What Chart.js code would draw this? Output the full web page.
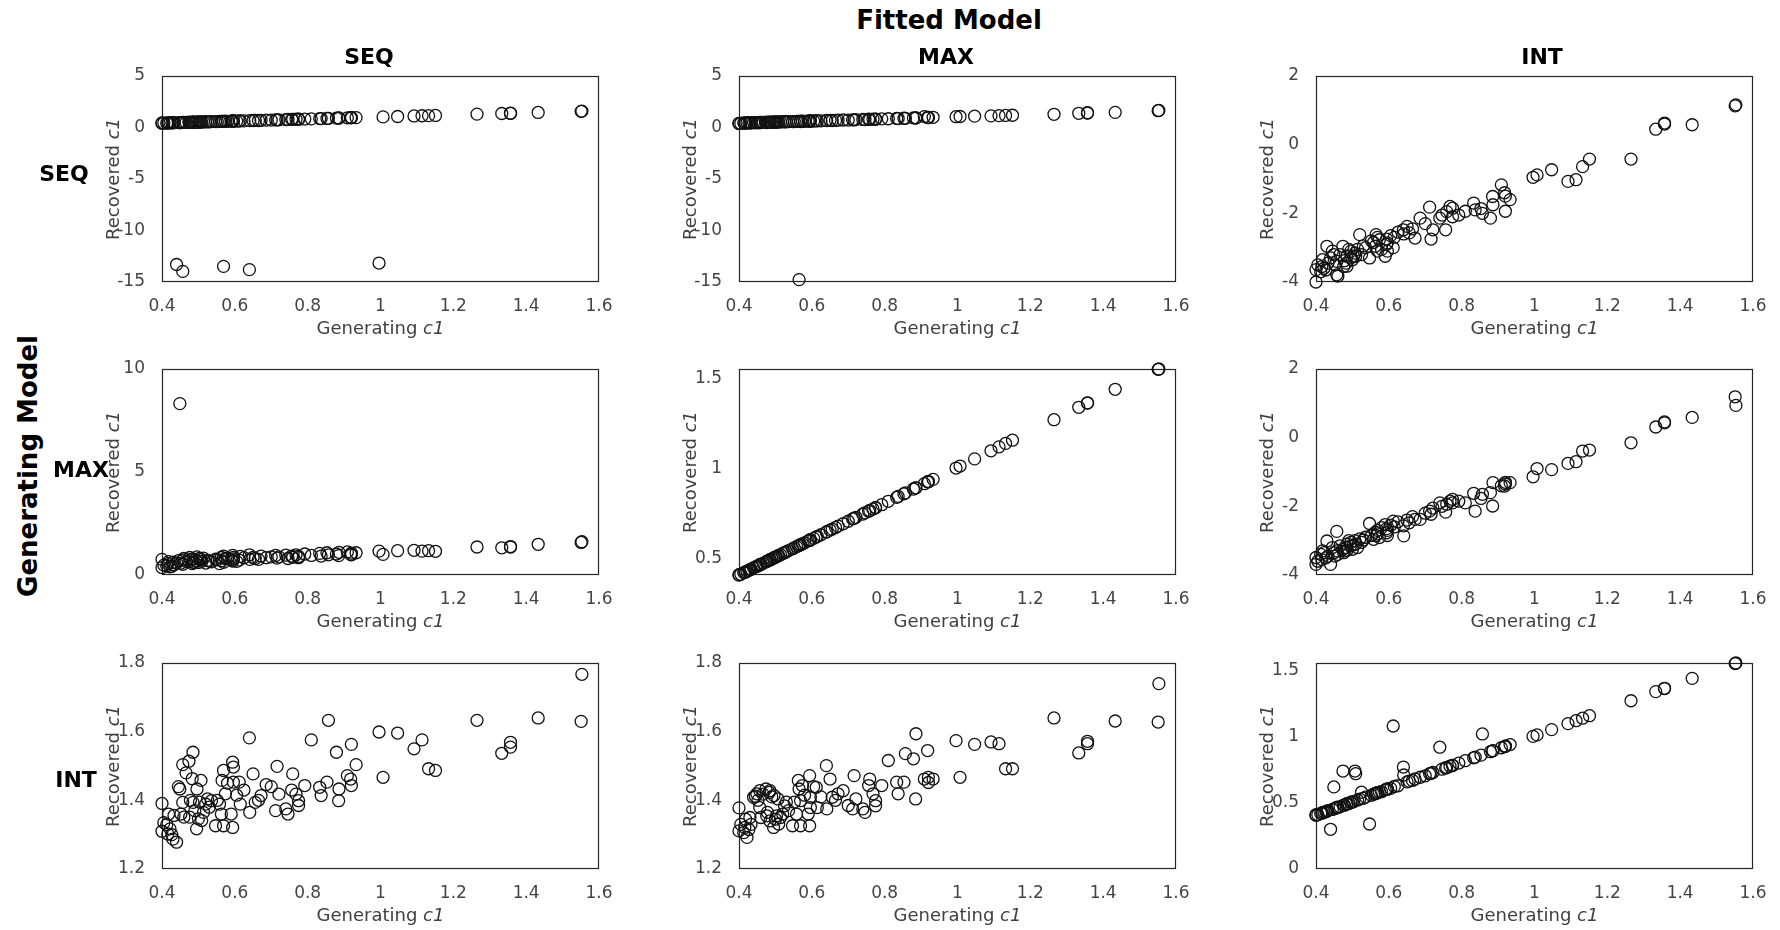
<!DOCTYPE html>
<html><head><meta charset="utf-8">
<script src="https://cdn.jsdelivr.net/npm/chart.js@4/dist/chart.umd.min.js"></script>
<style>
html,body{margin:0;padding:0;background:#fff;}
body{width:1780px;height:930px;position:relative;overflow:hidden;font-family:"DejaVu Sans",sans-serif;}
canvas{position:absolute;z-index:1;}
.lbl{position:absolute;white-space:nowrap;z-index:2;line-height:1;}
.big{font-weight:bold;color:#000;}
.ax{color:#404040;font-size:18px;}
</style></head><body>
<script>
// Generating c1 (shared x values)
const genC1 = [
0.400,0.400,0.413,0.416,0.422,0.430,0.433,0.440,0.449,0.457,
0.457,0.460,0.474,0.476,0.483,0.485,0.485,0.495,0.496,0.500,
0.507,0.509,0.514,0.520,0.525,0.536,0.547,0.558,0.563,0.565,
0.569,0.569,0.574,0.590,0.594,0.594,0.596,0.596,0.612,0.615,
0.640,0.641,0.650,0.656,0.672,0.686,0.712,0.716,0.721,0.740,
0.746,0.756,0.759,0.768,0.775,0.775,0.792,0.810,0.833,0.837,
0.853,0.857,0.879,0.885,0.886,0.909,0.918,0.920,0.920,0.933,
0.996,1.007,1.047,1.092,1.114,1.132,1.151,1.265,1.333,1.357,
1.357,1.433,1.551,1.553,
0.405,0.418,0.427,0.445,0.452,0.466,0.478,0.490,0.503,0.530,
0.552,0.580,0.605,0.625,0.665,0.700];

// Recovered c1: generating SEQ
const genSEQ_fitSEQ = [
0.42,0.44,0.43,0.45,0.45,0.46,0.47,-13.30,0.48,-13.97,
0.49,0.49,0.51,0.50,0.52,0.51,0.52,0.53,0.52,0.54,
0.54,0.53,0.55,0.56,0.55,0.57,0.58,0.59,0.60,0.59,
-13.48,0.60,0.61,0.62,0.63,0.62,0.63,0.64,0.65,0.64,
-13.80,0.67,0.68,0.69,0.70,0.72,0.74,0.75,0.75,0.77,
0.78,0.79,0.79,0.80,0.81,0.80,0.82,0.84,0.86,0.87,
0.88,0.89,0.91,0.92,0.91,0.94,0.95,0.95,0.96,0.96,
-13.16,1.03,1.07,1.12,1.14,1.15,1.17,1.30,1.36,1.38,
1.39,1.46,1.57,1.59,
0.43,0.44,0.45,0.47,0.47,0.49,0.50,0.51,0.52,0.55,
0.57,0.60,0.62,0.64,0.68,0.72];
const genSEQ_fitMAX = [
0.38,0.41,0.45,0.42,0.47,0.44,0.46,0.48,0.47,0.50,
0.46,0.49,0.51,0.48,0.52,0.50,0.53,0.51,0.54,0.52,
0.55,0.53,0.54,0.57,0.55,0.58,0.57,0.60,0.59,-14.77,
0.61,0.58,0.62,0.63,0.61,0.64,0.62,0.65,0.66,0.64,
0.69,0.67,0.70,0.68,0.71,0.73,0.75,0.74,0.76,0.78,
0.77,0.80,0.78,0.81,0.82,0.80,0.84,0.85,0.88,0.87,
0.90,0.89,0.93,0.92,0.94,1.06,0.97,0.98,0.96,0.99,
1.05,1.07,1.10,1.13,1.15,1.17,1.19,1.28,1.38,1.41,
1.43,1.47,1.63,1.66,
0.40,0.43,0.44,0.46,0.48,0.49,0.50,0.52,0.53,0.56,
0.58,0.60,0.63,0.65,0.69,0.72];
const genSEQ_fitINT = [
-3.64,-4.00,-3.70,-3.55,-3.60,-2.96,-3.45,-3.30,-3.20,-3.79,
-3.40,-3.83,-2.96,-3.55,-3.45,-3.25,-3.54,-3.30,-3.10,-3.35,
-3.16,-3.25,-3.05,-2.62,-3.20,-3.00,-3.30,-2.85,-2.96,-2.62,
-2.70,-3.10,-2.77,-3.25,-2.75,-2.90,-3.10,-2.86,-3.00,-2.70,
-2.48,-2.60,-2.38,-2.57,-2.72,-2.14,-1.82,-2.75,-2.48,-2.14,
-2.05,-2.48,-1.95,-1.80,-1.85,-2.10,-2.05,-1.94,-1.70,-1.90,
-1.86,-2.00,-2.14,-1.51,-1.75,-1.17,-1.40,-1.50,-1.94,-1.60,
-0.95,-0.88,-0.73,-1.07,-1.02,-0.64,-0.42,-0.42,0.45,0.60,
0.63,0.58,1.13,1.16,
-3.50,-3.35,-3.65,-3.10,-3.50,-3.20,-3.38,-3.05,-3.25,-2.95,
-2.80,-3.05,-2.65,-2.55,-2.45,-2.30];

// Recovered c1: generating MAX
const genMAX_fitSEQ = [
0.76,0.36,0.45,0.55,0.40,0.62,0.50,0.58,8.32,0.72,
0.52,0.80,0.65,0.85,0.55,0.78,0.62,0.70,0.88,0.60,
0.75,0.66,0.82,0.58,0.71,0.64,0.77,0.55,0.85,0.70,
0.92,0.62,0.80,0.74,0.95,0.68,0.86,0.78,0.72,0.90,
0.98,0.76,0.85,0.80,0.92,0.84,0.95,0.82,0.88,0.96,
0.80,0.92,0.86,0.98,0.84,0.90,1.02,0.95,1.05,0.92,
1.08,0.98,1.02,0.94,1.10,1.12,1.00,1.06,0.98,1.08,
1.16,1.00,1.18,1.20,1.16,1.18,1.15,1.36,1.32,1.36,
1.38,1.49,1.58,1.62,
0.48,0.65,0.42,0.70,0.58,0.66,0.74,0.60,0.80,0.68,
0.74,0.82,0.66,0.84,0.76,0.88];
const genMAX_fitMAX = [
0.410,0.412,0.423,0.425,0.431,0.440,0.442,0.450,0.458,0.466,
0.467,0.470,0.483,0.486,0.492,0.494,0.495,0.504,0.506,0.509,
0.517,0.518,0.523,0.530,0.534,0.546,0.556,0.568,0.572,0.575,
0.578,0.579,0.583,0.600,0.603,0.604,0.605,0.606,0.621,0.625,
0.649,0.651,0.660,0.665,0.682,0.695,0.722,0.725,0.731,0.749,
0.756,0.765,0.769,0.777,0.785,0.784,0.801,0.820,0.842,0.847,
0.862,0.867,0.888,0.895,0.895,0.918,0.928,0.929,0.930,0.942,
1.005,1.016,1.056,1.101,1.123,1.142,1.160,1.274,1.343,1.366,
1.368,1.443,1.554,1.556,
0.414,0.427,0.436,0.455,0.461,0.475,0.487,0.499,0.512,0.539,
0.561,0.589,0.614,0.634,0.674,0.709];
const genMAX_fitINT = [
-3.49,-3.69,-3.40,-3.55,-3.35,-3.01,-3.45,-3.69,-3.35,-2.73,
-3.30,-3.40,-3.25,-3.35,-3.20,-3.10,-3.28,-3.15,-3.05,-3.25,
-3.00,-3.10,-3.20,-2.95,-3.05,-2.90,-2.50,-2.96,-2.75,-2.85,
-2.70,-2.80,-2.91,-2.53,-2.77,-2.65,-2.85,-2.70,-2.43,-2.60,
-2.57,-2.86,-2.40,-2.48,-2.38,-2.38,-2.14,-2.23,-2.05,-1.90,
-2.00,-2.17,-1.94,-1.85,-1.80,-1.90,-1.85,-1.90,-1.62,-2.14,
-1.77,-1.65,-1.60,-1.99,-1.31,-1.40,-1.41,-1.35,-1.30,-1.31,
-1.14,-0.90,-0.93,-0.75,-0.70,-0.39,-0.36,-0.15,0.31,0.43,
0.46,0.59,1.19,0.94,
-3.60,-3.30,-3.50,-3.20,-3.45,-3.15,-3.30,-3.00,-3.12,-2.98,
-2.85,-2.62,-2.55,-2.45,-2.30,-2.20];

// Recovered c1: generating INT
const genINT_fitSEQ = [
1.391,1.310,1.329,1.302,1.317,1.287,1.356,1.278,1.433,1.504,
1.394,1.351,1.514,1.351,1.463,1.540,1.394,1.317,1.433,1.346,
1.458,1.341,1.365,1.389,1.404,1.399,1.326,1.389,1.360,1.458,
1.487,1.326,1.419,1.360,1.511,1.321,1.497,1.453,1.453,1.389,
1.582,1.365,1.477,1.394,1.414,1.446,1.370,1.499,1.418,1.375,
1.360,1.430,1.477,1.418,1.399,1.385,1.443,1.576,1.438,1.414,
1.453,1.633,1.540,1.399,1.433,1.472,1.462,1.563,1.443,1.504,
1.599,1.467,1.596,1.550,1.576,1.492,1.487,1.633,1.537,1.569,
1.555,1.640,1.630,1.767,
1.335,1.360,1.300,1.440,1.360,1.480,1.400,1.370,1.395,1.380,
1.400,1.450,1.415,1.430,1.400,1.440];
const genINT_fitMAX = [
1.378,1.311,1.306,1.321,1.292,1.350,1.330,1.409,1.419,1.428,
1.379,1.350,1.433,1.355,1.423,1.340,1.428,1.321,1.414,1.345,
1.404,1.331,1.350,1.360,1.384,1.370,1.326,1.360,1.458,1.433,
1.326,1.399,1.443,1.360,1.472,1.326,1.409,1.379,1.438,1.379,
1.501,1.375,1.462,1.409,1.419,1.428,1.375,1.472,1.404,1.375,
1.365,1.443,1.462,1.419,1.399,1.384,1.443,1.516,1.453,1.419,
1.453,1.536,1.521,1.404,1.594,1.462,1.545,1.467,1.452,1.462,
1.574,1.467,1.563,1.570,1.565,1.492,1.492,1.640,1.538,1.572,
1.565,1.631,1.628,1.740,
1.330,1.345,1.315,1.412,1.400,1.418,1.365,1.410,1.355,1.395,
1.395,1.415,1.440,1.410,1.400,1.385];
const genINT_fitINT = [
0.405,0.410,0.420,0.424,0.430,0.437,0.441,0.300,0.620,0.463,
0.466,0.468,0.740,0.483,0.490,0.492,0.494,0.502,0.505,0.507,
0.740,0.720,0.521,0.528,0.580,0.543,0.340,0.565,0.570,0.572,
0.576,0.577,0.581,0.598,0.601,0.602,0.603,0.605,1.080,0.623,
0.770,0.710,0.658,0.664,0.680,0.693,0.720,0.723,0.729,0.920,
0.754,0.763,0.767,0.776,0.783,0.782,0.800,0.818,0.840,0.845,
0.860,1.020,0.886,0.892,0.894,0.916,0.925,0.927,0.928,0.940,
1.002,1.013,1.053,1.098,1.120,1.139,1.158,1.271,1.340,1.363,
1.365,1.440,1.552,1.556,
0.410,0.423,0.432,0.450,0.457,0.470,0.482,0.494,0.507,0.534,
0.556,0.584,0.609,0.629,0.669,0.704];

// Tick labels
const xTicks = [0.4, 0.6, 0.8, 1, 1.2, 1.4, 1.6];
const yTicksSeqRow = [-15, -10, -5, 0, 5];
const yTicksIntCol = [-4, -2, 0, 2];
const yTicksMaxSeq = [0, 5, 10];
const yTicksMaxMax = [0.5, 1, 1.5];
const yTicksIntRow = [1.2, 1.4, 1.6, 1.8];
const yTicksIntInt = [0, 0.5, 1, 1.5];

const fittedModels = ['SEQ', 'MAX', 'INT'];
const generatingModels = ['SEQ', 'MAX', 'INT'];

// layout (pixels)
const colLeft = [162, 739, 1316];
const rowTop = [76, 369, 663];
const plotW = 437, plotH = 206;
const yAxisW = 80, xAxisH = 60, padTop = 14, padRight = 18;

const panels = [
  [ {y: genSEQ_fitSEQ, min: -15, max: 5, ticks: yTicksSeqRow},
    {y: genSEQ_fitMAX, min: -15, max: 5, ticks: yTicksSeqRow},
    {y: genSEQ_fitINT, min: -4, max: 2, ticks: yTicksIntCol} ],
  [ {y: genMAX_fitSEQ, min: 0, max: 10, ticks: yTicksMaxSeq},
    {y: genMAX_fitMAX, min: 0.41, max: 1.556, ticks: yTicksMaxMax},
    {y: genMAX_fitINT, min: -4, max: 2, ticks: yTicksIntCol} ],
  [ {y: genINT_fitSEQ, min: 1.2, max: 1.8, ticks: yTicksIntRow},
    {y: genINT_fitMAX, min: 1.2, max: 1.8, ticks: yTicksIntRow},
    {y: genINT_fitINT, min: 0, max: 1.556, ticks: yTicksIntInt} ]
];

const frame = {
  id: 'frame',
  beforeDatasetsDraw(chart) {
    const a = chart.chartArea, c = chart.ctx;
    c.save();
    c.strokeStyle = '#262626';
    c.lineWidth = 1.2;
    c.strokeRect(Math.round(a.left) + 0.5, Math.round(a.top) + 0.5,
                 Math.round(a.right - a.left) - 1, Math.round(a.bottom - a.top) - 1);
    c.restore();
  }
};

const tickFont = {family: 'DejaVu Sans', size: 17};
const tickColor = '#454545';

function addLabel(html, cls, x, y, rotate, size) {
  const d = document.createElement('div');
  d.className = 'lbl ' + cls;
  d.innerHTML = html;
  if (size) d.style.fontSize = size + 'px';
  d.style.left = x + 'px';
  d.style.top = y + 'px';
  d.style.transform = 'translate(-50%,-50%)' + (rotate ? ' rotate(-90deg)' : '');
  document.body.appendChild(d);
}

for (let r = 0; r < 3; r++) {
  for (let c = 0; c < 3; c++) {
    const p = panels[r][c];
    const cv = document.createElement('canvas');
    const w = plotW + yAxisW + padRight, h = plotH + padTop + xAxisH;
    cv.width = w; cv.height = h;
    cv.style.width = w + 'px'; cv.style.height = h + 'px';
    cv.style.left = (colLeft[c] - yAxisW) + 'px';
    cv.style.top = (rowTop[r] - padTop) + 'px';
    document.body.appendChild(cv);
    new Chart(cv, {
      type: 'scatter',
      data: {
        datasets: [{
          data: genC1.map((x, i) => ({x: x, y: p.y[i]})),
          pointStyle: 'circle',
          pointRadius: 6,
          pointHoverRadius: 6,
          borderColor: '#111',
          backgroundColor: 'rgba(0,0,0,0)',
          pointBorderWidth: 1.3,
          borderWidth: 1.3,
          clip: false
        }]
      },
      options: {
        responsive: false,
        animation: false,
        devicePixelRatio: 1,
        layout: {padding: {left: 0, top: padTop, right: padRight, bottom: 0}},
        plugins: {legend: {display: false}, tooltip: {enabled: false}},
        events: [],
        scales: {
          x: {
            type: 'linear', position: 'bottom', min: 0.4, max: 1.6,
            grid: {display: false}, border: {display: false},
            afterBuildTicks: s => { s.ticks = xTicks.map(v => ({value: v})); },
            afterFit: s => { s.height = xAxisH; s.paddingLeft = 0; s.paddingRight = 0; },
            ticks: {padding: 6, color: tickColor, font: tickFont, autoSkip: false, maxRotation: 0,
                    callback: v => String(v)}
          },
          y: {
            type: 'linear', position: 'left', min: p.min, max: p.max,
            grid: {display: false}, border: {display: false},
            afterBuildTicks: s => { s.ticks = p.ticks.map(v => ({value: v})); },
            afterFit: s => { s.width = yAxisW; s.paddingTop = 0; s.paddingBottom = 0; },
            ticks: {padding: 9, color: tickColor, font: tickFont, autoSkip: false,
                    callback: v => String(v)}
          }
        }
      },
      plugins: [frame]
    });
    addLabel('Generating <i>c1</i>', 'ax', colLeft[c] + plotW / 2, rowTop[r] + plotH + 46, false);
    addLabel('Recovered <i>c1</i>', 'ax', colLeft[c] - 49, rowTop[r] + plotH / 2, true);
  }
}

addLabel('Fitted Model', 'big', 949, 20, false, 26);
const colTitleX = [369, 946, 1542];
fittedModels.forEach((m, i) => addLabel(m, 'big', colTitleX[i], 57, false, 22));
const rowLabelPos = [[64, 174], [81, 470], [76, 780]];
generatingModels.forEach((m, i) => addLabel(m, 'big', rowLabelPos[i][0], rowLabelPos[i][1], false, 22));
addLabel('Generating Model', 'big', 28, 466, true, 26);
</script>
</body></html>
